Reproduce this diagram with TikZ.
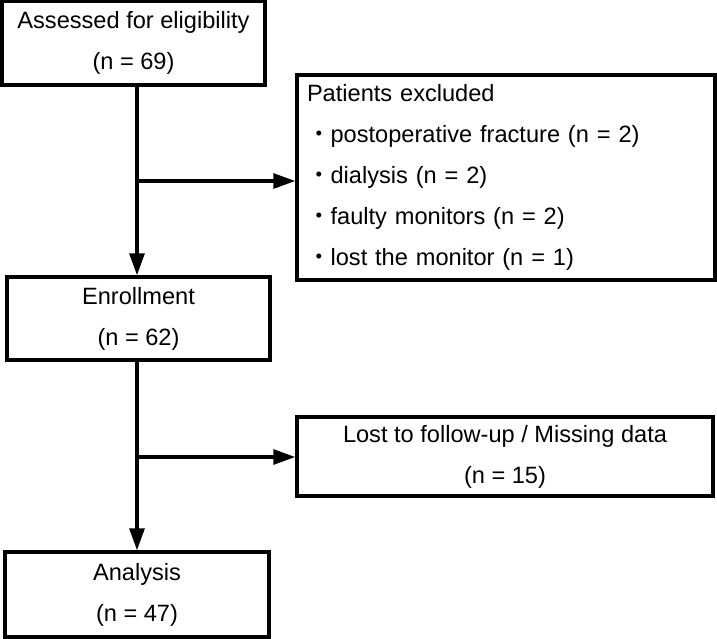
\documentclass[tikz,border=0pt]{standalone}
\usepackage{fontspec}
\setmainfont{Liberation Sans}
\newfontfamily\cjk{Noto Sans CJK JP}
\usetikzlibrary{arrows.meta}
\begin{document}
\begin{tikzpicture}[x=1pt,y=-1pt,
  box/.style={draw=black,line width=3.5pt,inner sep=0pt,
    font=\fontsize{23.6}{41}\selectfont},
  cbox/.style={box,align=center},
  conn/.style={line width=3.2pt,-{Triangle[length=22pt,width=15pt]}}]
\useasboundingbox (0,0) rectangle (717,638);
\node[cbox,minimum width=263pt,minimum height=84pt] (assess) at (133.5,43)
  {Assessed for eligibility\\(n = 69)};
\node[box,minimum width=418pt,minimum height=205pt,text width=398pt,align=left] (excl) at (506,177.5)
  {Patients excluded\\
   {\cjk ・}postoperative fracture (n = 2)\\
   {\cjk ・}dialysis (n = 2)\\
   {\cjk ・}faulty monitors (n = 2)\\
   {\cjk ・}lost the monitor (n = 1)};
\node[cbox,minimum width=263pt,minimum height=83pt] (enroll) at (138.5,318.5)
  {Enrollment\\(n = 62)};
\node[cbox,minimum width=416pt,minimum height=79pt] (lost) at (505,456.5)
  {Lost to follow-up / Missing data\\(n = 15)};
\node[cbox,minimum width=264pt,minimum height=85pt] (anal) at (137,594.5)
  {Analysis\\(n = 47)};
\coordinate (j1) at (137,181);
\coordinate (j2) at (137,457);
\draw[conn] (assess.south -| j1) -- (enroll.north -| j1);
\draw[conn] (j1) -- (excl.west |- j1);
\draw[conn] (enroll.south -| j2) -- (anal.north -| j2);
\draw[conn] (j2) -- (lost.west |- j2);
\end{tikzpicture}
\end{document}
